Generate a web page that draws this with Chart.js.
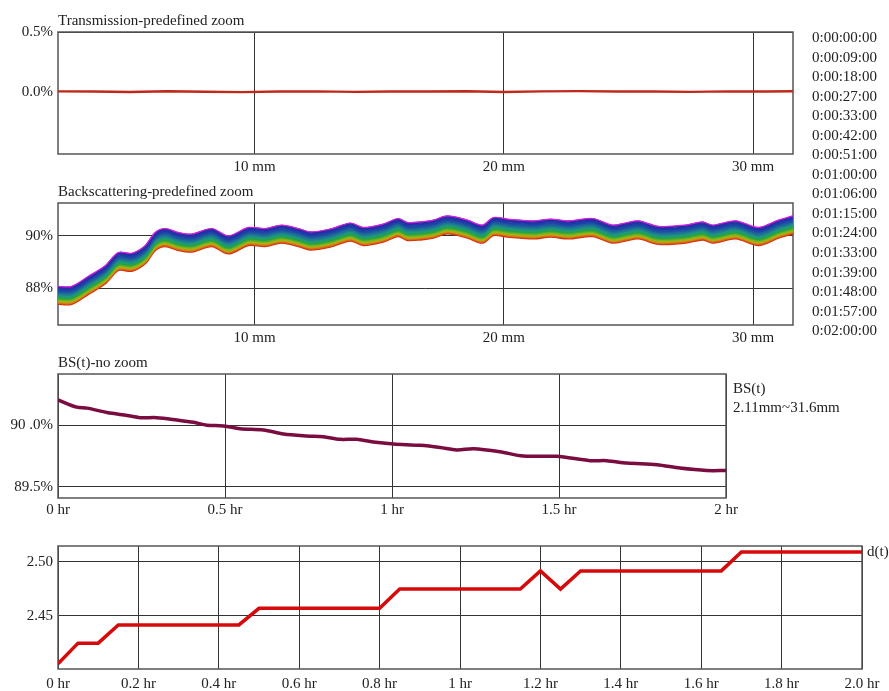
<!DOCTYPE html>
<html>
<head>
<meta charset="utf-8">
<script src="https://cdn.jsdelivr.net/npm/chart.js@4.4.1/dist/chart.umd.min.js"></script>
<style>
  body { margin: 0; background: #fff; }
  #wrap { position: relative; width: 889px; height: 691px; font-family: "Liberation Serif", "Times New Roman", serif; color: #222; }
  canvas { position: absolute; left: 0; }
  .txt { position: absolute; font-size: 15px; line-height: 18px; white-space: nowrap; }
  #times { position: absolute; left: 812px; top: 28px; font-size: 15px; line-height: 19.55px; }
</style>
</head>
<body>
<div id="wrap">
  <canvas id="c-tr" width="889" height="180" style="top:0"></canvas>
  <canvas id="c-bs" width="889" height="170" style="top:180px"></canvas>
  <canvas id="c-bst" width="889" height="170" style="top:350px"></canvas>
  <canvas id="c-dt" width="889" height="171" style="top:520px"></canvas>

  <div class="txt" style="left:58px; top:11px">Transmission-predefined zoom</div>
  <div class="txt" style="left:58px; top:182px">Backscattering-predefined zoom</div>
  <div class="txt" style="left:58px; top:353px">BS(t)-no zoom</div>
  <div class="txt" style="left:733px; top:379px">BS(t)</div>
  <div class="txt" style="left:733px; top:398px">2.11mm~31.6mm</div>
  <div class="txt" style="left:867px; top:542px">d(t)</div>
  <div id="times"></div>
</div>

<script>
// scan times (legend column on the right)
const scanTimes = ['0:00:00:00', '0:00:09:00', '0:00:18:00', '0:00:27:00', '0:00:33:00', '0:00:42:00',
    '0:00:51:00', '0:01:00:00', '0:01:06:00', '0:01:15:00', '0:01:24:00', '0:01:33:00',
    '0:01:39:00', '0:01:48:00', '0:01:57:00', '0:02:00:00'];

// transmission (mm, %)
const trX = [2.11, 3.5, 5, 6.5, 8, 9.5, 11, 12.5, 14, 15.5, 17, 18.5, 20, 21.5, 23, 24.5, 26, 27.5, 29, 30.5, 31.6];
const trY = [0.004, 0.003, -0.002, 0.005, 0.001, -0.003, 0.002, 0.004, -0.001, 0.003, 0.002, 0.005, -0.002, 0.004, 0.006, 0.002, 0.003, -0.001, 0.004, 0.002, 0.005];

// backscattering, upper edge of the scan band (mm, %)
const bsX = [2.11, 2.66, 3.33, 4.00, 4.53, 5.07, 5.60, 6.01, 6.41, 6.94, 7.48, 8.28, 8.95, 9.75,
    10.42, 11.09, 11.83, 12.23, 13.03, 13.84, 14.36, 15.16, 15.76, 16.13, 16.65, 17.17, 17.73, 18.54,
    19.14, 19.58, 20.14, 21.19, 21.87, 22.59, 23.56, 24.36, 24.88, 25.40, 26.21, 27.29, 27.97, 28.37,
    29.30, 30.22, 31.02, 31.6];
const bsTop = [88.04, 88.04, 88.42, 88.82, 89.33, 89.30, 89.58, 90.09, 90.24, 90.09, 90.03, 90.24, 89.96, 90.28,
    90.24, 90.37, 90.22, 90.11, 90.22, 90.45, 90.28, 90.41, 90.62, 90.47, 90.49, 90.56, 90.72, 90.56,
    90.37, 90.66, 90.60, 90.53, 90.60, 90.53, 90.62, 90.37, 90.45, 90.53, 90.32, 90.37, 90.49, 90.37,
    90.53, 90.28, 90.56, 90.72];
// offset of each scan from that edge (%)
const bsShift = [0.03, 0, -0.06, -0.12, -0.17, -0.22, -0.27, -0.32, -0.36, -0.40, -0.44, -0.48, -0.52, -0.56, -0.60, -0.64];
const bsColors = ['#d81ee8', '#2a2c9c', '#1e36a8', '#1e46aa', '#1e5aa0', '#1e6e96', '#1e828c', '#1e9682',
    '#1ea064', '#28a046', '#46aa32', '#78b41e', '#a0b414', '#c89614', '#dc6414', '#d23214'];

// BS(t) mean (hr, %)
const bstT = [0, 0.056, 0.087, 0.147, 0.207, 0.246, 0.296, 0.356, 0.406, 0.446, 0.496, 0.545, 0.615, 0.675,
    0.745, 0.794, 0.844, 0.894, 0.944, 1.004, 1.084, 1.144, 1.194, 1.244, 1.323, 1.393, 1.493, 1.593,
    1.643, 1.703, 1.793, 1.862, 1.942, 2.0];
const bstV = [90.206, 90.147, 90.139, 90.103, 90.079, 90.062, 90.062, 90.043, 90.024, 90.0, 89.995, 89.972,
    89.962, 89.929, 89.913, 89.907, 89.886, 89.886, 89.864, 89.848, 89.837, 89.82, 89.80, 89.81, 89.785,
    89.75, 89.748, 89.713, 89.713, 89.693, 89.68, 89.653, 89.633, 89.633];

// d(t) (hr, value)
const dtT = [0, 0.05, 0.1, 0.15, 0.45, 0.5, 0.8, 0.85, 1.15, 1.2, 1.25, 1.3, 1.65, 1.7, 2.0];
const dtV = [2.4058, 2.4249, 2.4249, 2.4417, 2.4417, 2.4571, 2.4571, 2.4749, 2.4749, 2.4917, 2.4749, 2.4917, 2.4917, 2.5092, 2.5092];

// tick values / labels
const mmTicks = [10, 20, 30];
const mmLabels = ['10 mm', '20 mm', '30 mm'];
const trYTicks = [0, 0.5];
const trYLabels = ['0.0%', '0.5%'];
const bsYTicks = [88, 90];
const bsYLabels = ['88%', '90%'];
const bstXTicks = [0, 0.5, 1, 1.5, 2];
const bstXLabels = ['0 hr', '0.5 hr', '1 hr', '1.5 hr', '2 hr'];
const bstYTicks = [89.5, 90.0];
const bstYLabels = ['89.5%', '90 .0%'];
const dtXTicks = [0, 0.2, 0.4, 0.6, 0.8, 1, 1.2, 1.4, 1.6, 1.8, 2.0];
const dtXLabels = ['0 hr', '0.2 hr', '0.4 hr', '0.6 hr', '0.8 hr', '1 hr', '1.2 hr', '1.4 hr', '1.6 hr', '1.8 hr', '2.0 hr'];
const dtYTicks = [2.45, 2.50];
const dtYLabels = ['2.45', '2.50'];

document.getElementById('times').innerHTML = scanTimes.map(t => '<div>' + t + '</div>').join('');

const frame = {
    id: 'frame',
    beforeDatasetsDraw(chart) {
        const { ctx, chartArea: a } = chart;
        ctx.save();
        ctx.strokeStyle = '#555';
        ctx.lineWidth = 1.5;
        ctx.strokeRect(a.left, a.top, a.right - a.left, a.bottom - a.top);
        ctx.restore();
    },
};

const font = { family: '"Liberation Serif", "Times New Roman", serif', size: 15 };

function axis(min, max, ticks, labels, fit, pad) {
    return {
        type: 'linear', min, max,
        afterBuildTicks: s => { s.ticks = ticks.map(v => ({ value: v })); },
        afterFit: fit,
        ticks: {
            font, color: '#222', padding: pad, autoSkip: false, maxRotation: 0,
            callback: v => labels[ticks.findIndex(t => Math.abs(t - v) < 1e-9)],
        },
        grid: { color: '#333', lineWidth: 1, drawTicks: false },
        border: { display: false },
    };
}

function panel(id, cfg) {
    return new Chart(document.getElementById(id), {
        type: 'line',
        data: { datasets: cfg.datasets },
        options: {
            responsive: false,
            animation: false,
            layout: { padding: { left: 0, top: cfg.top, right: cfg.right, bottom: 0 } },
            plugins: { legend: { display: false }, tooltip: { enabled: false } },
            elements: { point: { radius: 0 } },
            scales: {
                x: axis(cfg.x[0], cfg.x[1], cfg.xTicks, cfg.xLabels, s => { s.height = cfg.xh; }, cfg.xpad),
                y: axis(cfg.y[0], cfg.y[1], cfg.yTicks, cfg.yLabels, s => { s.width = 58; }, 5),
            },
        },
        plugins: [frame],
    });
}

panel('c-tr', {
    top: 32, right: 96, xh: 26, xpad: 4,
    x: [2.11, 31.6], y: [-0.52, 0.5],
    xTicks: mmTicks, xLabels: mmLabels, yTicks: trYTicks, yLabels: trYLabels,
    datasets: [{
        data: trX.map((x, i) => ({ x, y: trY[i] })),
        borderColor: '#c0281a', borderWidth: 2.4, tension: 0,
    }],
});

panel('c-bs', {
    top: 23, right: 96, xh: 25, xpad: 4,
    x: [2.11, 31.6], y: [86.6, 91.24],
    xTicks: mmTicks, xLabels: mmLabels, yTicks: bsYTicks, yLabels: bsYLabels,
    datasets: bsShift.map((s, i) => ({
        data: bsX.map((x, j) => ({ x, y: bsTop[j] + s })),
        borderColor: bsColors[i], borderWidth: i === 0 ? 1.2 : 2.2, tension: 0.3,
    })),
});

panel('c-bst', {
    top: 24, right: 163, xh: 22, xpad: 3,
    x: [0, 2], y: [89.41, 90.416],
    xTicks: bstXTicks, xLabels: bstXLabels, yTicks: bstYTicks, yLabels: bstYLabels,
    datasets: [{
        data: bstT.map((x, i) => ({ x, y: bstV[i] })),
        borderColor: '#7a0c40', borderWidth: 3.5, tension: 0.3,
    }],
});

panel('c-dt', {
    top: 26, right: 27, xh: 22, xpad: 6,
    x: [0, 2], y: [2.401, 2.5147],
    xTicks: dtXTicks, xLabels: dtXLabels, yTicks: dtYTicks, yLabels: dtYLabels,
    datasets: [{
        data: dtT.map((x, i) => ({ x, y: dtV[i] })),
        borderColor: '#d60a0a', borderWidth: 3.5, tension: 0,
    }],
});
</script>
</body>
</html>
